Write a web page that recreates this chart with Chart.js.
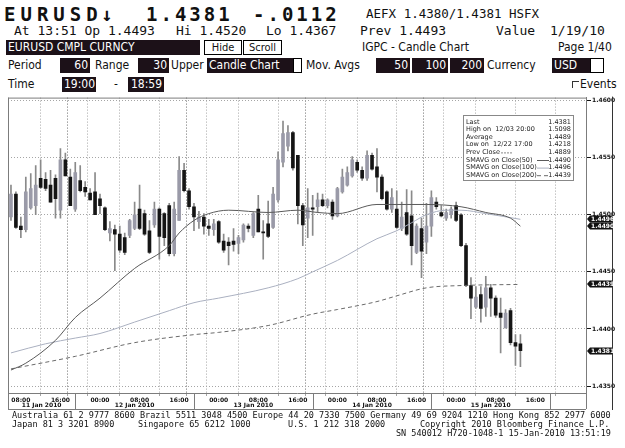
<!DOCTYPE html>
<html>
<head>
<meta charset="utf-8">
<script src="https://cdn.jsdelivr.net/npm/chart.js@4.4.0/dist/chart.umd.min.js"></script>
<style>
html, body { margin: 0; padding: 0; background: #fff; }
#page { position: relative; width: 625px; height: 448px; overflow: hidden; color: #111;
        font-family: "DejaVu Sans Condensed", "DejaVu Sans", sans-serif; font-size: 12px; }
.t { position: absolute; white-space: nowrap; }
.r1 { top: 3px; height: 22px; line-height: 22px; }
.r2 { top: 23px; height: 16px; line-height: 16px; }
.r3 { top: 40px; height: 15px; line-height: 15px; }
.r4 { top: 58px; height: 15px; line-height: 15px; }
.r5 { top: 77px; height: 15px; line-height: 15px; }
.big { font: bold 19px "DejaVu Sans Mono", monospace; letter-spacing: 3px; }
.mono { font-family: "DejaVu Sans Mono", monospace; font-size: 13px; }
.box { background: #1c1118; color: #fff; padding: 0 2px; box-sizing: border-box; }
.num { text-align: right; }
.btn { border: 1px solid #000; background: #fff; text-align: center; box-sizing: border-box; font-size: 11px; line-height: 13px; }
.sq { background: #fff; border: 1px solid #000; box-sizing: border-box; }
.foot { position: absolute; font: 8.5px "DejaVu Sans Mono", monospace; white-space: pre; line-height: 9px; color: #111; }
#wrap { position: absolute; left: 0; top: 93px; width: 625px; height: 319px; }
</style>
</head>
<body>
<div id="page">
  <div class="t r1 big" style="left:4px;letter-spacing:5px">EURUSD</div>
  <div class="t r1 big" style="left:101px">↓</div>
  <div class="t r1 big" style="left:146px">1.4381</div>
  <div class="t r1 big" style="left:253px">-.0112</div>
  <div class="t r1 mono" style="left:366px;font-size:12.5px">AEFX 1.4380/1.4381 HSFX</div>

  <div class="t r2 mono" style="left:14px">At 13:51 Op 1.4493</div>
  <div class="t r2 mono" style="left:176px">Hi 1.4520</div>
  <div class="t r2 mono" style="left:266px">Lo 1.4367</div>
  <div class="t r2 mono" style="left:360px">Prev 1.4493</div>
  <div class="t r2 mono" style="left:496px">Value</div>
  <div class="t r2 mono" style="left:550px">1/19/10</div>

  <div class="t r3 box" style="left:6px;width:194px">EURUSD CMPL CURNCY</div>
  <div class="t r3 btn" style="left:204px;width:38px">Hide</div>
  <div class="t r3 btn" style="left:243px;width:39px">Scroll</div>
  <div class="t r3" style="left:362px">IGPC - Candle Chart</div>
  <div class="t r3" style="left:558px">Page 1/40</div>

  <div class="t r4" style="left:8px">Period</div>
  <div class="t r4 box num" style="left:60px;width:30px">60</div>
  <div class="t r4" style="left:95px">Range</div>
  <div class="t r4 box num" style="left:138px;width:31px">30</div>
  <div class="t r4" style="left:171px">Upper</div>
  <div class="t r4 box" style="left:207px;width:86px">Candle Chart</div>
  <div class="t r4 sq" style="left:293px;width:9px"></div>
  <div class="t r4" style="left:306px">Mov. Avgs</div>
  <div class="t r4 box num" style="left:376px;width:34px">50</div>
  <div class="t r4 box num" style="left:412px;width:36px">100</div>
  <div class="t r4 box num" style="left:450px;width:34px">200</div>
  <div class="t r4" style="left:487px">Currency</div>
  <div class="t r4 box" style="left:552px;width:38px">USD</div>
  <div class="t r4 sq" style="left:590px;width:14px"></div>

  <div class="t r5" style="left:8px">Time</div>
  <div class="t r5 box num" style="left:62px;width:34px">19:00</div>
  <div class="t r5" style="left:114px">-</div>
  <div class="t r5 box num" style="left:128px;width:36px">18:59</div>
  <div class="t" style="left:572px;top:81px;width:6px;height:6px;border-top:1px solid #333;border-left:1px solid #333"></div>
  <div class="t r5" style="left:580px">Events</div>

  <div id="wrap"><canvas id="chart" width="625" height="319"></canvas></div>

  <div class="foot" style="left:12px;top:411px">Australia 61 2 9777 8600 Brazil 5511 3048 4500 Europe 44 20 7330 7500 Germany 49 69 9204 1210 Hong Kong 852 2977 6000</div>
  <div class="foot" style="left:12px;top:420px">Japan 81 3 3201 8900</div>
  <div class="foot" style="left:138px;top:420px">Singapore 65 6212 1000</div>
  <div class="foot" style="left:288px;top:420px">U.S. 1 212 318 2000</div>
  <div class="foot" style="left:420px;top:420px">Copyright 2010 Bloomberg Finance L.P.</div>
  <div class="foot" style="left:396px;top:429px">SN 540012 H720-1048-1 15-Jan-2010 13:51:19</div>
</div>

<script>
// hours since 11 Jan 2010 00:00, one candle per hour
const hours = [6,7,8,9,10,11,12,13,14,15,16,17,18,19,20,21,22,23,24,25,26,27,28,29,30,31,32,33,34,35,
  36,37,38,39,40,41,42,43,44,45,46,47,48,49,50,51,52,53,54,55,56,57,58,59,60,61,62,63,64,65,
  66,67,68,69,70,71,72,73,74,75,76,77,78,79,80,81,82,83,84,85,86,87,88,89,90,91,92,93,94,95,
  96,97,98,99,100,101,102,103,104,105,106,107,108,109];

const open = [
  1.4498,1.4518,1.4490,1.4487,1.4506,1.4508,1.4532,1.4531,1.4526,1.4532,
  1.4504,1.4548,1.4533,1.4505,1.4530,1.4524,1.4519,1.4520,1.4514,1.4506,
  1.4484,1.4487,1.4483,1.4480,1.4482,1.4488,1.4505,1.4501,1.4486,1.4491,
  1.4505,1.4501,1.4508,1.4466,1.4495,1.4539,1.4521,1.4507,1.4494,1.4498,
  1.4490,1.4487,1.4494,1.4477,1.4476,1.4477,1.4475,1.4478,1.4490,1.4482,
  1.4505,1.4485,1.4492,1.4489,1.4513,1.4546,1.4560,1.4572,1.4552,1.4508,
  1.4497,1.4506,1.4507,1.4513,1.4508,1.4511,1.4499,1.4520,1.4526,1.4534,
  1.4546,1.4539,1.4532,1.4552,1.4542,1.4533,1.4520,1.4505,1.4505,1.4488,
  1.4502,1.4499,1.4467,1.4488,1.4476,1.4490,1.4511,1.4502,1.4497,1.4500,
  1.4508,1.4500,1.4473,1.4438,1.4419,1.4430,1.4419,1.4436,1.4427,1.4414,
  1.4401,1.4416,1.4388,1.4387];
const high = [
  1.4526,1.4520,1.4498,1.4533,1.4536,1.4543,1.4548,1.4537,1.4539,1.4535,
  1.4558,1.4554,1.4540,1.4546,1.4543,1.4529,1.4523,1.4537,1.4518,1.4507,
  1.4494,1.4491,1.4490,1.4484,1.4496,1.4511,1.4526,1.4504,1.4495,1.4511,
  1.4506,1.4502,1.4510,1.4511,1.4551,1.4545,1.4523,1.4510,1.4503,1.4501,
  1.4496,1.4496,1.4495,1.4483,1.4480,1.4488,1.4482,1.4492,1.4492,1.4502,
  1.4517,1.4495,1.4512,1.4524,1.4555,1.4582,1.4578,1.4573,1.4552,1.4510,
  1.4523,1.4517,1.4519,1.4518,1.4514,1.4513,1.4524,1.4540,1.4542,1.4551,
  1.4548,1.4542,1.4556,1.4554,1.4558,1.4535,1.4521,1.4523,1.4521,1.4511,
  1.4522,1.4521,1.4492,1.4497,1.4510,1.4521,1.4515,1.4508,1.4505,1.4507,
  1.4511,1.4501,1.4475,1.4445,1.4437,1.4437,1.4446,1.4439,1.4429,1.4427,
  1.4417,1.4418,1.4395,1.4395];
const low = [
  1.4495,1.4488,1.4480,1.4485,1.4505,1.4500,1.4523,1.4521,1.4511,1.4497,
  1.4497,1.4534,1.4508,1.4503,1.4520,1.4516,1.4513,1.4500,1.4501,1.4486,
  1.4477,1.4451,1.4467,1.4465,1.4480,1.4487,1.4487,1.4482,1.4466,1.4489,
  1.4461,1.4473,1.4464,1.4464,1.4495,1.4520,1.4505,1.4486,1.4488,1.4483,
  1.4482,1.4482,1.4475,1.4467,1.4456,1.4468,1.4466,1.4476,1.4485,1.4480,
  1.4485,1.4461,1.4480,1.4488,1.4511,1.4542,1.4556,1.4539,1.4492,1.4473,
  1.4480,1.4482,1.4502,1.4507,1.4506,1.4496,1.4498,1.4519,1.4525,1.4533,
  1.4537,1.4530,1.4530,1.4539,1.4520,1.4513,1.4504,1.4502,1.4488,1.4486,
  1.4482,1.4456,1.4466,1.4445,1.4466,1.4481,1.4505,1.4498,1.4495,1.4497,
  1.4494,1.4472,1.4437,1.4409,1.4418,1.4406,1.4411,1.4411,1.4410,1.4379,
  1.4401,1.4386,1.4368,1.4367];
const close = [
  1.4518,1.4489,1.4487,1.4520,1.4523,1.4526,1.4524,1.4523,1.4511,1.4514,
  1.4548,1.4534,1.4508,1.4537,1.4521,1.4520,1.4513,1.4500,1.4508,1.4487,
  1.4488,1.4483,1.4469,1.4467,1.4495,1.4500,1.4488,1.4483,1.4467,1.4505,
  1.4481,1.4480,1.4466,1.4505,1.4539,1.4521,1.4507,1.4498,1.4498,1.4490,
  1.4488,1.4492,1.4476,1.4469,1.4473,1.4474,1.4480,1.4491,1.4488,1.4501,
  1.4485,1.4484,1.4481,1.4518,1.4548,1.4571,1.4572,1.4541,1.4508,1.4491,
  1.4506,1.4505,1.4513,1.4508,1.4513,1.4499,1.4523,1.4533,1.4537,1.4548,
  1.4539,1.4532,1.4552,1.4540,1.4533,1.4514,1.4505,1.4515,1.4489,1.4498,
  1.4483,1.4473,1.4490,1.4468,1.4490,1.4515,1.4507,1.4499,1.4502,1.4505,
  1.4495,1.4473,1.4438,1.4427,1.4428,1.4418,1.4436,1.4427,1.4412,1.4410,
  1.4414,1.4388,1.4385,1.4381];

// moving averages: [hour, value]
const ma50 = [[6,1.4364],[9,1.4370],[15,1.4390],[19,1.4410],[24,1.4427],[31,1.4453],[38,1.4473],
  [40,1.4484],[43,1.4495],[46,1.4501],[50,1.4504],[58,1.4502],[64,1.4504],[68,1.4502],[72,1.4501],
  [80,1.4509],[90,1.4509],[97,1.4507],[102,1.4502],[107,1.4497],[109,1.4490]];
const ma100 = [[6,1.4379],[13,1.4387],[19,1.4392],[24,1.4396],[31,1.4406],[38,1.4416],[43,1.4423],
  [48,1.4427],[58,1.4436],[64,1.4444],[67,1.4450],[72,1.4460],[80,1.4479],[84,1.4486],[87,1.4493],
  [90,1.4500],[94,1.4504],[97,1.4504],[102,1.4501],[109,1.4496]];
const ma200 = [[6,1.4365],[19,1.4376],[31,1.4388],[43,1.4395],[48,1.4397],[58,1.4403],[67,1.4413],
  [72,1.4417],[80,1.4424],[84,1.4429],[90,1.4436],[97,1.4438],[109,1.4439]];

const yTicks = [1.4350, 1.4400, 1.4450, 1.4500, 1.4550, 1.4600];
const xTicks = [8,16,19,24,32,40,43,48,56,64,67,72,80,88,91,96,104,112];
const daySeps = [19, 43, 67, 91, 115];
const dayLabels = ['11 Jan 2010','12 Jan 2010','13 Jan 2010','14 Jan 2010','15 Jan 2010'];
const lastBoxes = [1.4496, 1.4490, 1.4439, 1.4381];
const legendRows = [
  ['Last', '1.4381', null],
  ['High on  12/03 20:00', '1.5098', null],
  ['Average', '1.4489', null],
  ['Low on  12/22 17:00', '1.4218', null],
  ['Prev Close', '1.4889', 'prev'],
  ['SMAVG on Close(50)', '1.4490', 'ma50'],
  ['SMAVG on Close(100)', '1.4496', 'ma100'],
  ['SMAVG on Close(200)', '1.4439', 'ma200']
];

const UP = '#9a9aa8', DOWN = '#151515', WICK = '#8a8a8a';
const lineStyle = {
  ma50: { color: '#5a5a5a', dash: [] },
  ma100: { color: '#aab0c0', dash: [] },
  ma200: { color: '#6a6a6a', dash: [4, 3] },
  prev: { color: '#888', dash: [2, 1] }
};

const pts = arr => arr.map(p => ({ x: p[0], y: p[1] }));

// frame, date band, price flags and the stats box
const decor = {
  id: 'decor',
  afterDraw(chart) {
    const { ctx, chartArea: a, scales: { x, y } } = chart;
    const bandBottom = a.bottom + 16;
    ctx.save();
    ctx.lineWidth = 1;
    ctx.strokeStyle = '#7c7c7c';
    ctx.beginPath();
    ctx.moveTo(a.left, a.top + 0.5); ctx.lineTo(a.right, a.top + 0.5);
    ctx.moveTo(a.left + 0.5, a.top); ctx.lineTo(a.left + 0.5, bandBottom);
    ctx.moveTo(a.left, bandBottom + 0.5); ctx.lineTo(a.right, bandBottom + 0.5);
    ctx.moveTo(a.right + 0.5, a.bottom); ctx.lineTo(a.right + 0.5, bandBottom);
    daySeps.forEach(h => {
      const px = Math.round(x.getPixelForValue(h)) + 0.5;
      if (px < a.right) { ctx.moveTo(px, a.bottom); ctx.lineTo(px, bandBottom); }
    });
    ctx.stroke();
    ctx.strokeStyle = '#333';
    ctx.beginPath();
    ctx.moveTo(612.5, a.top - 1); ctx.lineTo(612.5, bandBottom + 1);
    ctx.stroke();

    // date labels, centred in each trading day
    ctx.fillStyle = '#111';
    ctx.font = 'bold 6px "DejaVu Sans"';
    ctx.textAlign = 'center';
    ctx.textBaseline = 'middle';
    dayLabels.forEach((d, i) => {
      const s = Math.max(x.getPixelForValue(daySeps[i] - 24), a.left);
      const e = x.getPixelForValue(daySeps[i]);
      ctx.fillText(d, (s + e) / 2, a.bottom + 12);
    });

    // last-value flags on the price axis
    ctx.textAlign = 'left';
    lastBoxes.forEach(v => {
      const py = Math.round(y.getPixelForValue(v));
      ctx.fillStyle = '#111';
      ctx.beginPath();
      ctx.moveTo(a.right + 1, py);
      ctx.lineTo(a.right + 4, py - 3.5);
      ctx.lineTo(a.right + 26, py - 3.5);
      ctx.lineTo(a.right + 26, py + 3.5);
      ctx.lineTo(a.right + 4, py + 3.5);
      ctx.closePath();
      ctx.fill();
      ctx.fillStyle = '#fff';
      ctx.fillText(v.toFixed(4), a.right + 5, py + 0.5);
    });

    // statistics box
    const bx = 463, by = 22, bw = 110, bh = 65;
    ctx.fillStyle = '#fff';
    ctx.fillRect(bx, by, bw, bh);
    ctx.strokeStyle = '#888';
    ctx.strokeRect(bx + 0.5, by + 0.5, bw, bh);
    ctx.font = '6.5px "DejaVu Sans"';
    ctx.fillStyle = '#222';
    legendRows.forEach((r, i) => {
      const ry = by + 7 + i * 7.6;
      ctx.textAlign = 'left';
      ctx.fillText(r[0], bx + 3, ry);
      ctx.textAlign = 'right';
      ctx.fillText(r[1], bx + bw - 2, ry);
      if (r[2]) {
        const st = lineStyle[r[2]];
        const x0 = r[2] === 'prev' ? bx + 38 : bx + 74;
        ctx.save();
        ctx.strokeStyle = st.color;
        ctx.setLineDash(st.dash);
        ctx.beginPath();
        ctx.moveTo(x0, ry + 0.5); ctx.lineTo(x0 + 12, ry + 0.5);
        ctx.stroke();
        ctx.restore();
      }
    });
    ctx.restore();
  }
};

new Chart(document.getElementById('chart'), {
  type: 'bar',
  data: {
    datasets: [
      {
        type: 'line', label: 'SMAVG(50)', data: pts(ma50), order: 0,
        borderColor: lineStyle.ma50.color, borderWidth: 1, pointRadius: 0, cubicInterpolationMode: 'monotone'
      },
      {
        type: 'line', label: 'SMAVG(100)', data: pts(ma100), order: 0,
        borderColor: lineStyle.ma100.color, borderWidth: 1, pointRadius: 0, cubicInterpolationMode: 'monotone'
      },
      {
        type: 'line', label: 'SMAVG(200)', data: pts(ma200), order: 0,
        borderColor: lineStyle.ma200.color, borderDash: lineStyle.ma200.dash, borderWidth: 1,
        pointRadius: 0, cubicInterpolationMode: 'monotone'
      },
      {
        label: 'body', order: 1, grouped: false, barThickness: 3, minBarLength: 1,
        data: hours.map((h, i) => ({ x: h, y: [open[i], close[i]] })),
        backgroundColor: ctx => close[ctx.dataIndex] >= open[ctx.dataIndex] ? UP : DOWN
      },
      {
        label: 'wick', order: 2, grouped: false, barThickness: 1,
        data: hours.map((h, i) => ({ x: h, y: [low[i], high[i]] })),
        backgroundColor: WICK
      }
    ]
  },
  options: {
    responsive: false,
    animation: false,
    devicePixelRatio: 1,
    layout: { padding: { left: 8, top: 4, right: 0, bottom: 0 } },
    plugins: { legend: { display: false }, tooltip: { enabled: false } },
    scales: {
      x: {
        type: 'linear', min: 5.4, max: 122.26, offset: false,
        afterBuildTicks: s => { s.ticks = xTicks.map(v => ({ value: v })); },
        afterFit: s => { s.height = 19; },
        ticks: {
          autoSkip: false, maxRotation: 0, padding: 1, color: '#111',
          font: { family: 'DejaVu Sans', size: 6, weight: 'bold' },
          callback: v => (v % 24 === 19 ? '' : String(v % 24).padStart(2, '0') + ':00')
        },
        grid: {
          color: c => (c.tick && c.tick.value % 24 === 19 ? '#6c6c6c' : '#a5a5a5'),
          tickLength: 3, tickColor: '#a5a5a5'
        },
        border: { display: true, color: '#7c7c7c', dash: [1, 2] }
      },
      y: {
        position: 'right', min: 1.43439, max: 1.46026,
        afterBuildTicks: s => { s.ticks = yTicks.map(v => ({ value: v })); },
        afterFit: s => { s.width = 39; },
        ticks: {
          padding: 1, color: '#111',
          font: { family: 'DejaVu Sans', size: 6, weight: 'bold' },
          callback: v => v.toFixed(4)
        },
        grid: { color: '#a5a5a5', tickLength: 5, tickColor: '#111' },
        border: { display: true, color: '#7c7c7c', dash: [1, 2] }
      }
    }
  },
  plugins: [decor]
});
</script>
</body>
</html>
